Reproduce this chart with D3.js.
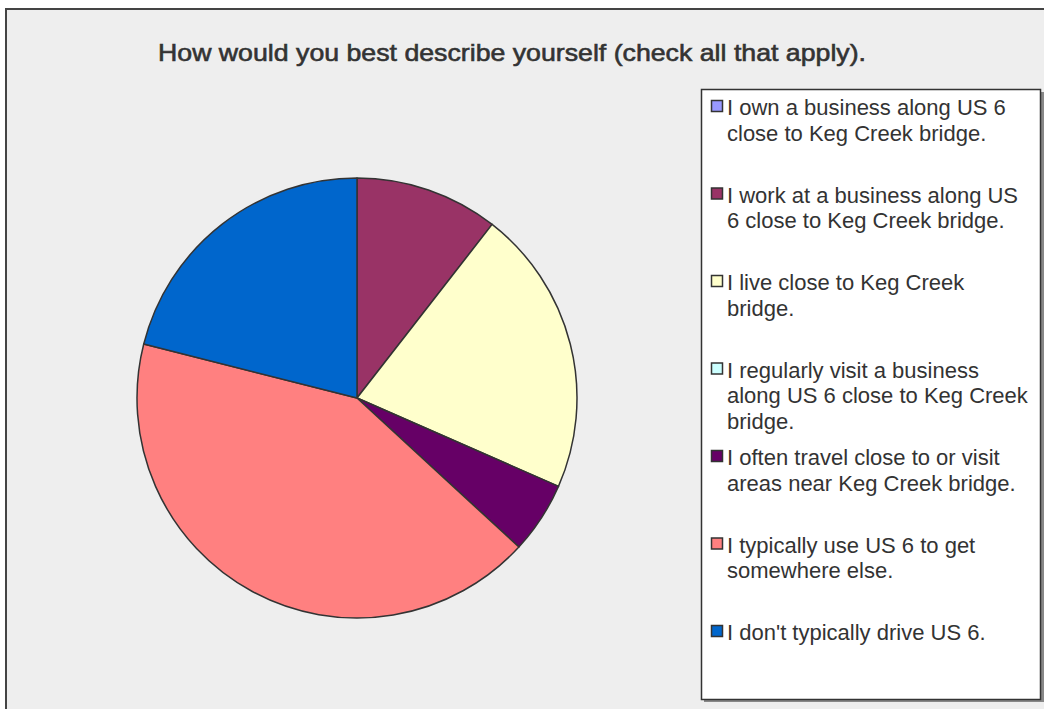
<!DOCTYPE html>
<html><head><meta charset="utf-8">
<script src="https://cdn.jsdelivr.net/npm/d3@7"></script>
<style>html,body{margin:0;padding:0;background:#fff;}svg{display:block;}</style>
</head><body>
<script>
const title = "How would you best describe yourself (check all that apply).";
const categories = [
  "I own a business along US 6 close to Keg Creek bridge.",
  "I work at a business along US 6 close to Keg Creek bridge.",
  "I live close to Keg Creek bridge.",
  "I regularly visit a business along US 6 close to Keg Creek bridge.",
  "I often travel close to or visit areas near Keg Creek bridge.",
  "I typically use US 6 to get somewhere else.",
  "I don't typically drive US 6."
];
const legendLines = [
  ["I own a business along US 6", "close to Keg Creek bridge."],
  ["I work at a business along US", "6 close to Keg Creek bridge."],
  ["I live close to Keg Creek", "bridge."],
  ["I regularly visit a business", "along US 6 close to Keg Creek", "bridge."],
  ["I often travel close to or visit", "areas near Keg Creek bridge."],
  ["I typically use US 6 to get", "somewhere else."],
  ["I don't typically drive US 6."]
];
const values = [0, 2, 4, 0, 1, 8, 4];
const colors = ["#9999FF", "#993366", "#FFFFCC", "#CCFFFF", "#660066", "#FF8080", "#0066CC"];

const W = 1044, H = 709;
const svg = d3.select("body").append("svg").attr("width", W).attr("height", H);
svg.append("rect").attr("x", 0).attr("y", 0).attr("width", W).attr("height", H).attr("fill", "#fff");
svg.append("rect").attr("x", 6).attr("y", 9).attr("width", W + 10).attr("height", H + 10)
  .attr("fill", "#eeeeee").attr("stroke", "#444").attr("stroke-width", 2);

svg.append("text").attr("x", 512).attr("y", 61).attr("text-anchor", "middle")
  .attr("font-family", "Liberation Sans, Arial, sans-serif").attr("font-size", 24)
  .attr("fill", "#333").attr("stroke", "#333").attr("stroke-width", 0.6)
  .attr("textLength", 708).attr("lengthAdjust", "spacingAndGlyphs")
  .text(title);

const data = categories.map((c, i) => ({c, v: values[i], color: colors[i]}));
const pie = d3.pie().sort(null).value(d => d.v);
const arc = d3.arc().innerRadius(0).outerRadius(220);
const g = svg.append("g").attr("transform", "translate(357,398)");
g.selectAll("path").data(pie(data).filter(d => d.data.v > 0)).join("path")
  .attr("d", arc).attr("fill", d => d.data.color)
  .attr("stroke", "#333").attr("stroke-width", 1.5).attr("stroke-linejoin", "round");

// legend
svg.append("rect").attr("x", 704).attr("y", 92).attr("width", 340).attr("height", 610).attr("fill", "#888");
svg.append("rect").attr("x", 701.5).attr("y", 89.5).attr("width", 339).attr("height", 610)
  .attr("fill", "#fff").attr("stroke", "#333").attr("stroke-width", 1.5);

const lg = svg.append("g");
const ys = d3.range(categories.length).map(i => 107 + i * 87.5);
categories.forEach((c, i) => {
  const y = ys[i];
  lg.append("rect").attr("x", 711.5).attr("y", y - 6.5).attr("width", 11).attr("height", 11)
    .attr("fill", colors[i]).attr("stroke", "#333").attr("stroke-width", 1.5);
  const t = lg.append("text").attr("font-family", "Liberation Sans, Arial, sans-serif")
    .attr("font-size", 22).attr("fill", "#333");
  legendLines[i].forEach((ln, j) => {
    t.append("tspan").attr("x", 727).attr("y", y + 8 + j * 25.5).text(ln);
  });
});
</script>
</body></html>
